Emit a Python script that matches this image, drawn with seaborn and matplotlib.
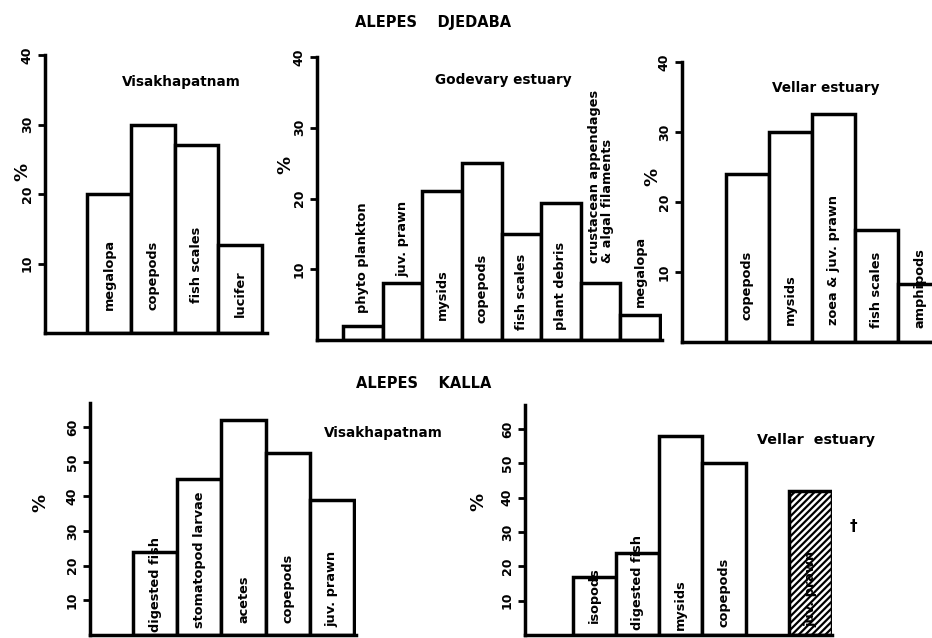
import matplotlib
matplotlib.use("Agg")
import matplotlib.pyplot as plt
import seaborn as sns
import pandas as pd

# ---------------- data ----------------
vis_dj_cats = ["megalopa", "copepods", "fish scales", "lucifer"]
vis_dj_vals = [20, 30, 27, 12.7]

god_cats = ["phyto plankton", "juv. prawn", "mysids", "copepods", "fish scales",
            "plant debris", "crustacean appendages\n& algal filaments", "megalopa"]
god_vals = [2, 8, 21, 25, 15, 19.3, 8, 3.5]

vel_dj_cats = ["copepods", "mysids", "zoea & juv. prawn", "fish scales", "amphipods"]
vel_dj_vals = [24, 30, 32.6, 16, 8.3]

vis_ka_cats = ["digested fish", "stomatopod larvae", "acetes", "copepods", "juv. prawn"]
vis_ka_vals = [24, 45, 62, 52.5, 39]

vel_ka_cats = ["isopods", "digested fish", "mysids", "copepods", " ", "juv. prawn"]
vel_ka_vals = [17, 24, 58, 50, None, 42]

top_ticks = [10, 20, 30, 40]
bottom_ticks = [10, 20, 30, 40, 50, 60]

# ---------------- style ----------------
sns.set_style("white")
plt.rcParams["font.family"] = ["DejaVu Sans"]
plt.rcParams["font.weight"] = "bold"
plt.rcParams["hatch.linewidth"] = 1.6
for k in ["text.color", "axes.labelcolor", "xtick.color", "ytick.color", "axes.edgecolor"]:
    plt.rcParams[k] = "black"

W, H = 932, 638
fig = plt.figure(figsize=(W / 100, H / 100), dpi=100)
LW = 2.5


def axes_px(left, right, bottom, top):
    return fig.add_axes([left / W, 1 - bottom / H, (right - left) / W, (bottom - top) / H])


def panel(ax, cats, vals, ylim, xlim, ticks, label_y):
    df = pd.DataFrame({"cat": cats, "val": vals}).dropna()
    sns.barplot(data=df, x="cat", y="val", order=cats, color="white", saturation=1,
                edgecolor="black", linewidth=LW, width=1.0, ax=ax, errorbar=None)
    ax.set_ylim(*ylim)
    ax.set_xlim(*xlim)
    ax.set_xticks([])
    ax.set_xlabel("")
    ax.set_ylabel("")
    ax.set_yticks(ticks)
    ax.set_yticklabels([str(t) for t in ticks], rotation=90, va="center",
                       fontsize=9, fontweight="bold", color="black")
    ax.tick_params(axis="y", direction="out", length=5, width=2, left=True, pad=3,
                   colors="black")
    for s in ["top", "right"]:
        ax.spines[s].set_visible(False)
    for s in ["left", "bottom"]:
        ax.spines[s].set_linewidth(LW)
        ax.spines[s].set_color("black")
    ax.patch.set_alpha(0)
    for i, (c, yb) in enumerate(zip(cats, label_y)):
        if yb is None:
            continue
        ax.text(i, yb, c, rotation=90, ha="center", va="bottom", fontsize=9.3,
                fontweight="bold", multialignment="left", linespacing=1.0,
                color="black")


# Panel 1: Visakhapatnam (A. djedaba)
ax1 = axes_px(45, 267, 333, 55)
panel(ax1, vis_dj_cats, vis_dj_vals, (0, 40), (-1.46, 3.61), top_ticks,
      [3.3, 3.3, 4.3, 2.3])

# Panel 2: Godevary estuary
ax2 = axes_px(317, 662, 340, 57)
panel(ax2, god_cats, god_vals, (0, 40), (-1.16, 7.55), top_ticks,
      [3.8, 8.9, 2.8, 2.4, 1.4, 1.4, 10.9, 4.7])

# Panel 3: Vellar estuary (A. djedaba)
ax3 = axes_px(682, 960, 342, 62)
panel(ax3, vel_dj_cats, vel_dj_vals, (0, 40), (-1.52, 4.94), top_ticks,
      [3.1, 2.4, 2.4, 2.0, 2.0])

# Panel 4: Visakhapatnam (A. kalla)
ax4 = axes_px(90, 356, 635, 403)
panel(ax4, vis_ka_cats, vis_ka_vals, (0, 67), (-1.48, 4.55), bottom_ticks,
      [0.8, 2.0, 3.5, 3.5, 2.3])

# Panel 5: Vellar estuary (A. kalla)
ax5 = axes_px(525, 832, 635, 405)
panel(ax5, vel_ka_cats, vel_ka_vals, (0, 67), (-1.6, 5.5), bottom_ticks,
      [3.5, 1.5, 1.5, 2.3, None, 2.3])
ax5.patches[-1].set_hatch("/////")

# ---------------- figure texts ----------------
def ftext(x, y, s, **kw):
    fig.text(x / W, 1 - y / H, s, ha="center", va="center", fontweight="bold",
             color="black", **kw)


ftext(433, 23, "ALEPES    DJEDABA", fontsize=10.5)
ftext(424, 383, "ALEPES    KALLA", fontsize=10.5)
ftext(181, 82, "Visakhapatnam", fontsize=9.8)
ftext(503, 80, "Godevary estuary", fontsize=9.8)
ftext(826, 88, "Vellar estuary", fontsize=9.8)
ftext(383, 433, "Visakhapatnam", fontsize=9.8)
ftext(816, 440, "Vellar  estuary", fontsize=10.3)

for (x, y) in [(22, 172), (285, 165), (652, 177), (40, 503), (478, 502)]:
    ftext(x, y, "%", fontsize=13, rotation=90)

ftext(853, 527, "†", fontsize=11)

fig.savefig("out.png", dpi=100)
